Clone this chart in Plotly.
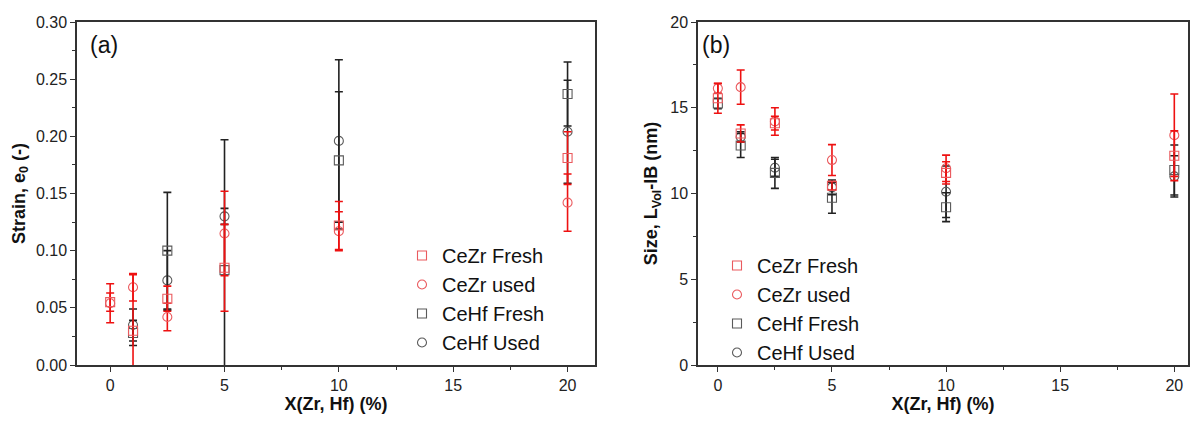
import plotly.graph_objects as go

# ---------------- data ----------------
series_names = ["CeZr Fresh", "CeZr used", "CeHf Fresh", "CeHf Used"]

# Panel (a): strain e0
a_x_cezr = [0, 1, 2.5, 5, 10, 20]
a_cezr_fresh = [0.055, 0.030, 0.058, 0.085, 0.122, 0.181]
a_cezr_fresh_err = [0.008, 0.049, 0.011, 0.038, 0.021, 0.023]
a_cezr_used = [0.054, 0.068, 0.042, 0.115, 0.117, 0.142]
a_cezr_used_err = [0.017, 0.012, 0.012, 0.037, 0.017, 0.025]

a_x_cehf = [1, 2.5, 5, 10, 20]
a_cehf_fresh = [0.028, 0.100, 0.083, 0.179, 0.237]
a_cehf_fresh_err = [0.011, 0.051, 0.114, 0.060, 0.028]
a_cehf_used = [0.035, 0.074, 0.130, 0.196, 0.204]
a_cehf_used_err = [0.014, 0.026, 0.007, 0.071, 0.045]

# Panel (b): size L_Vol-IB (nm)
b_x_cezr = [0, 1, 2.5, 5, 10, 20]
b_cezr_fresh = [15.55, 13.5, 14.1, 10.45, 11.2, 12.2]
b_cezr_fresh_err = [0.87, 0.5, 0.4, 0.25, 0.65, 1.45]
b_cezr_used = [16.13, 16.2, 14.2, 11.95, 11.47, 13.4]
b_cezr_used_err = [0.28, 1.0, 0.8, 0.9, 0.77, 2.4]

b_x_cehf = [0, 1, 2.5, 5, 10, 20]
b_cehf_fresh = [15.25, 12.8, 11.2, 9.75, 9.2, 11.37]
b_cehf_fresh_err = [0.3, 0.7, 0.9, 0.9, 0.84, 1.46]
b_cehf_used = [None, 13.3, 11.5, 10.36, 10.1, 11.0]
b_cehf_used_err = [0, 0.3, 0.5, 0.43, 1.5, 1.2]

RED_M = "#ea5a5e"
RED_E = "#ee1111"
BLK_M = "#5a5a5a"
BLK_E = "#222222"
FONT = "Liberation Sans, Arial, sans-serif"

fig = go.Figure()


def add(x, y, err, name, symbol, mcol, ecol, xaxis, yaxis, legend, rank):
    fig.add_trace(go.Scatter(
        x=x, y=y, mode="markers", name=name,
        marker=dict(symbol=symbol, size=9, color=mcol,
                    line=dict(color=mcol, width=1.1)),
        error_y=dict(type="data", array=err, visible=True, color=ecol,
                     thickness=1.6, width=4),
        xaxis=xaxis, yaxis=yaxis, legend=legend, legendrank=rank,
    ))


# black first so red bars are drawn over them
add(a_x_cehf, a_cehf_used, a_cehf_used_err, series_names[3], "circle-open", BLK_M, BLK_E, "x", "y", "legend", 4)
add(a_x_cehf, a_cehf_fresh, a_cehf_fresh_err, series_names[2], "square-open", BLK_M, BLK_E, "x", "y", "legend", 3)
add(a_x_cezr, a_cezr_used, a_cezr_used_err, series_names[1], "circle-open", RED_M, RED_E, "x", "y", "legend", 2)
add(a_x_cezr, a_cezr_fresh, a_cezr_fresh_err, series_names[0], "square-open", RED_M, RED_E, "x", "y", "legend", 1)

add(b_x_cehf, b_cehf_used, b_cehf_used_err, series_names[3], "circle-open", BLK_M, BLK_E, "x2", "y2", "legend2", 4)
add(b_x_cehf, b_cehf_fresh, b_cehf_fresh_err, series_names[2], "square-open", BLK_M, BLK_E, "x2", "y2", "legend2", 3)
add(b_x_cezr, b_cezr_used, b_cezr_used_err, series_names[1], "circle-open", RED_M, RED_E, "x2", "y2", "legend2", 2)
add(b_x_cezr, b_cezr_fresh, b_cezr_fresh_err, series_names[0], "square-open", RED_M, RED_E, "x2", "y2", "legend2", 1)

axis_common = dict(showline=True, linecolor="#333333", linewidth=1.5, mirror=True,
                   ticks="outside", ticklen=5, tickwidth=1.2, tickcolor="#333333",
                   showgrid=False, zeroline=False, automargin=False,
                   tickfont=dict(family=FONT, size=16, color="#222222"))
title_font = dict(family=FONT, size=18, color="#111111", weight="bold")

ydom = [58 / 423, 401 / 423]

fig.update_layout(
    width=1190, height=423,
    margin=dict(l=0, r=0, t=0, b=0, autoexpand=False),
    paper_bgcolor="white", plot_bgcolor="white",
    font=dict(family=FONT),
    xaxis=dict(domain=[77 / 1190, 595 / 1190], range=[-1.45, 21.2], dtick=5, tick0=0,
               minor=dict(ticks="outside", ticklen=3, dtick=2.5, tickcolor="#333333"),
               title=dict(text="X(Zr, Hf) (%)", font=title_font, standoff=4),
               anchor="y", **axis_common),
    yaxis=dict(domain=ydom, range=[0, 0.30], dtick=0.05, tickformat=".2f",
               minor=dict(ticks="outside", ticklen=3, dtick=0.025, tickcolor="#333333"),
               title=dict(text="Strain, e<sub>0</sub> (-)", font=title_font, standoff=6),
               anchor="x", **axis_common),
    xaxis2=dict(domain=[698 / 1190, 1188 / 1190], range=[-0.87, 20.6], dtick=5, tick0=0,
                minor=dict(ticks="outside", ticklen=3, dtick=2.5, tickcolor="#333333"),
                title=dict(text="X(Zr, Hf) (%)", font=title_font, standoff=4),
                anchor="y2", **axis_common),
    yaxis2=dict(domain=ydom, range=[0, 20], dtick=5,
                minor=dict(ticks="outside", ticklen=3, dtick=2.5, tickcolor="#333333"),
                title=dict(text="Size, L<sub>Vol</sub>-IB (nm)", font=title_font, standoff=8),
                anchor="x2", **axis_common),
    legend=dict(x=402 / 1190, y=(423 - 236) / 423, xanchor="left", yanchor="top",
                bgcolor="rgba(0,0,0,0)", font=dict(family=FONT, size=20, color="#111111"),
                traceorder="normal", itemwidth=30, tracegroupgap=0),
    legend2=dict(x=717 / 1190, y=(423 - 246) / 423, xanchor="left", yanchor="top",
                 bgcolor="rgba(0,0,0,0)", font=dict(family=FONT, size=20, color="#111111"),
                 traceorder="normal", itemwidth=30, tracegroupgap=0),
    annotations=[
        dict(text="(a)", x=88 / 1190, y=(423 - 45) / 423, xref="paper", yref="paper",
             xanchor="left", yanchor="middle", showarrow=False,
             font=dict(family=FONT, size=23, color="#111111")),
        dict(text="(b)", x=700 / 1190, y=(423 - 45) / 423, xref="paper", yref="paper",
             xanchor="left", yanchor="middle", showarrow=False,
             font=dict(family=FONT, size=23, color="#111111")),
    ],
)

fig.write_html("out.html")
